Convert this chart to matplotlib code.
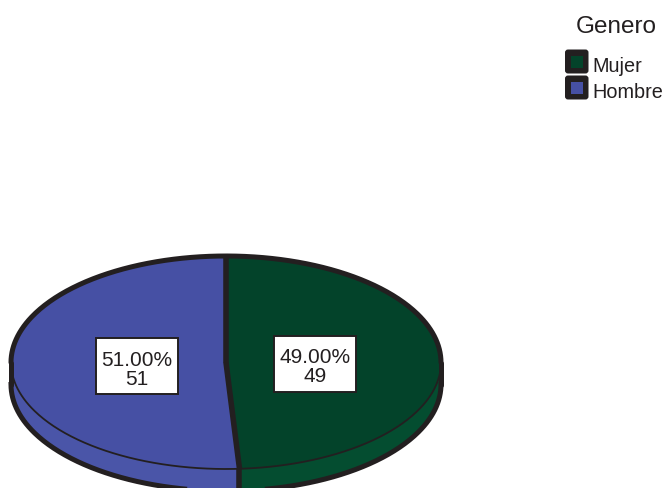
import numpy as np
import matplotlib.pyplot as plt
from matplotlib.patches import Polygon, Rectangle, FancyBboxPatch

plt.rcParams['font.family'] = ['Liberation Sans', 'DejaVu Sans']

# Sexo de los encuestados
categories = ['Mujer', 'Hombre']
counts = [49, 51]
top_colors = ['#03432a', '#4650a4']
side_colors = ['#044d30', '#4a55a8']
ink = '#231f20'

W, H = 666, 489
fig = plt.figure(figsize=(W / 100, H / 100), dpi=100)
ax = fig.add_axes([0, 0, 1, 1])

# pie of radius 1, squashed into an ellipse by the axes limits
cx, cy, rx, ry = 226, 363.5, 215, 106.5   # pixels
depth = 22 / ry

total = sum(counts)
fracs = [c / total for c in counts]
# wedge boundaries (degrees, ccw from +x), going clockwise from 12 o'clock
bounds = [90.0]
for f in fracs:
    bounds.append(bounds[-1] - 360 * f)

# side walls on the front half of the disc
for i in range(len(counts)):
    a_hi, a_lo = bounds[i], bounds[i + 1]
    for shift in (-360, 0, 360):
        s2, e2 = max(a_lo + shift, 180), min(a_hi + shift, 360)
        if e2 <= s2:
            continue
        t = np.radians(np.linspace(s2, e2, 200))
        xs, ys = np.cos(t), np.sin(t)
        pts = np.column_stack([np.r_[xs, xs[::-1]], np.r_[ys, ys[::-1] - depth]])
        ax.add_patch(Polygon(pts, closed=True, facecolor=side_colors[i],
                             edgecolor='none', zorder=1))

# top face
def fmt(p):
    return f'{p:.2f}%\n{int(round(p * total / 100))}'

wedges, texts, autotexts = ax.pie(
    counts, colors=top_colors, startangle=90, counterclock=False,
    autopct=fmt, pctdistance=0.415, radius=1, center=(0, 0),
    wedgeprops=dict(linewidth=0), frame=True,
    textprops=dict(fontsize=15, color=ink, linespacing=0.95))
ax.set_xlim(-cx / rx, (W - cx) / rx)
ax.set_ylim((cy - H) / ry, cy / ry)
ax.set_aspect('auto')
ax.axis('off')
for w in wedges:
    w.set_zorder(2)

# white value boxes
bw, bh = 82 / rx, 56 / ry
for t in autotexts:
    x, y = t.get_position()
    y -= 2.5 / ry
    ax.add_patch(Rectangle((x - bw / 2, y - bh / 2), bw, bh, facecolor='white',
                           edgecolor=ink, linewidth=1.4, zorder=6))
    t.set_position((x, y - 2.5 / ry))
    t.set_zorder(7)

# thin rim between top face and side wall
t = np.radians(np.linspace(180, 360, 300))
ax.plot(np.cos(t), np.sin(t), color=ink, lw=1.3, zorder=3)

# heavy silhouette
tb = np.radians(np.linspace(0, 180, 300))
ax.plot(np.cos(tb), np.sin(tb), color=ink, lw=3.6, zorder=4,
        solid_capstyle='round')
ax.plot(np.cos(t), np.sin(t) - depth, color=ink, lw=3.6, zorder=4)
for xe in (-1, 1):
    ax.plot([xe, xe], [0, -depth], color=ink, lw=3.6, zorder=4,
            solid_capstyle='round')

# wedge borders on the top and down the wall
for a in bounds[:-1]:
    r = np.radians(a)
    ax.plot([0, np.cos(r)], [0, np.sin(r)], color=ink, lw=4, zorder=4,
            solid_capstyle='butt')
    if np.sin(r) < 0:
        ax.plot([np.cos(r)] * 2, [np.sin(r), np.sin(r) - depth], color=ink,
                lw=4, zorder=4, solid_capstyle='butt')

# legend, laid out in pixel units on an overlay axes
lax = fig.add_axes([0, 0, 1, 1], facecolor='none')
lax.set_xlim(0, W)
lax.set_ylim(H, 0)
lax.axis('off')
lax.text(576, 33, 'Genero', fontsize=17.5, color=ink, va='baseline', ha='left')
for k, (lab, col) in enumerate(zip(categories, top_colors)):
    y0 = 50 + k * 26
    lax.add_patch(FancyBboxPatch((565, y0 + 0.5), 23.5, 24,
                                 boxstyle='round,pad=0,rounding_size=3',
                                 facecolor=ink, edgecolor='none'))
    lax.add_patch(Rectangle((571, y0 + 6.5), 12, 12, facecolor=col,
                            edgecolor='none'))
    lax.text(592, y0 + 22.5, lab, fontsize=14.3, color=ink, va='baseline',
             ha='left')

fig.savefig('out.png', dpi=100)
